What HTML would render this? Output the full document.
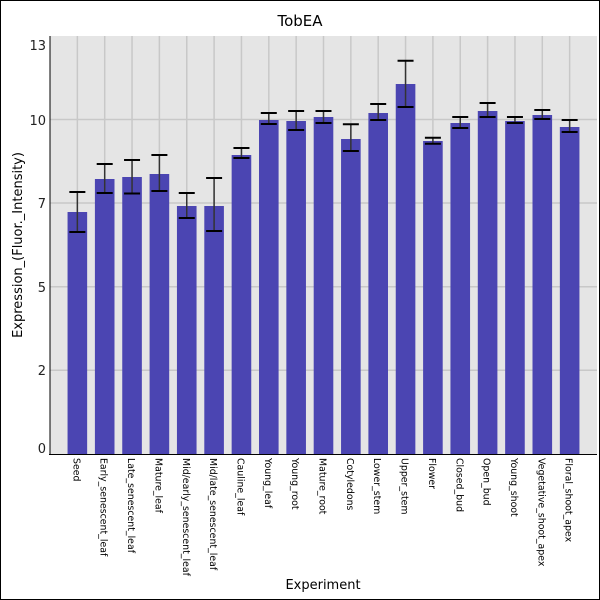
<!DOCTYPE html>
<html><head><meta charset="utf-8"><style>body{margin:0;background:#fff}svg{display:block}</style></head><body>
<svg width="600" height="600" xmlns="http://www.w3.org/2000/svg" font-family="'DejaVu Sans','Liberation Sans',sans-serif">
<rect x="0.5" y="0.5" width="599" height="599" fill="#fff" stroke="#000"/>
<rect x="50" y="36" width="547" height="418" fill="#e5e5e5"/>
<g stroke="#c8c8c8" stroke-width="1.5">
<line x1="50" x2="597" y1="119.5" y2="119.5"/><line x1="50" x2="597" y1="203" y2="203"/><line x1="50" x2="597" y1="286.7" y2="286.7"/><line x1="50" x2="597" y1="370.3" y2="370.3"/>
<line x1="77.35" x2="77.35" y1="36" y2="454"/><line x1="104.7" x2="104.7" y1="36" y2="454"/><line x1="132.05" x2="132.05" y1="36" y2="454"/><line x1="159.4" x2="159.4" y1="36" y2="454"/><line x1="186.75" x2="186.75" y1="36" y2="454"/><line x1="214.1" x2="214.1" y1="36" y2="454"/><line x1="241.45" x2="241.45" y1="36" y2="454"/><line x1="268.8" x2="268.8" y1="36" y2="454"/><line x1="296.15" x2="296.15" y1="36" y2="454"/><line x1="323.5" x2="323.5" y1="36" y2="454"/><line x1="350.85" x2="350.85" y1="36" y2="454"/><line x1="378.2" x2="378.2" y1="36" y2="454"/><line x1="405.55" x2="405.55" y1="36" y2="454"/><line x1="432.9" x2="432.9" y1="36" y2="454"/><line x1="460.25" x2="460.25" y1="36" y2="454"/><line x1="487.6" x2="487.6" y1="36" y2="454"/><line x1="514.95" x2="514.95" y1="36" y2="454"/><line x1="542.3" x2="542.3" y1="36" y2="454"/><line x1="569.65" x2="569.65" y1="36" y2="454"/>
</g>
<g fill="#4b45b2">
<rect x="67.55" y="212" width="19.6" height="242"/>
<rect x="94.9" y="179" width="19.6" height="275"/>
<rect x="122.25" y="177" width="19.6" height="277"/>
<rect x="149.6" y="174" width="19.6" height="280"/>
<rect x="176.95" y="206" width="19.6" height="248"/>
<rect x="204.3" y="206" width="19.6" height="248"/>
<rect x="231.65" y="155" width="19.6" height="299"/>
<rect x="259" y="120" width="19.6" height="334"/>
<rect x="286.35" y="121" width="19.6" height="333"/>
<rect x="313.7" y="117" width="19.6" height="337"/>
<rect x="341.05" y="139" width="19.6" height="315"/>
<rect x="368.4" y="113" width="19.6" height="341"/>
<rect x="395.75" y="84" width="19.6" height="370"/>
<rect x="423.1" y="141" width="19.6" height="313"/>
<rect x="450.45" y="123" width="19.6" height="331"/>
<rect x="477.8" y="111" width="19.6" height="343"/>
<rect x="505.15" y="121" width="19.6" height="333"/>
<rect x="532.5" y="115" width="19.6" height="339"/>
<rect x="559.85" y="127" width="19.6" height="327"/>
</g>
<g stroke="#333" stroke-width="1.5">
<path d="M77.35 192V232M104.7 164V193M132.05 160V193.5M159.4 155V191M186.75 193V218M214.1 178V231M241.45 148V158M268.8 113V124M296.15 111V130M323.5 111V123M350.85 124.3V151M378.2 104V120M405.55 60.7V107M432.9 137.7V143.7M460.25 117V128M487.6 103V117M514.95 117V123M542.3 110V119M569.65 120V132"/>
</g>
<g stroke="#000" stroke-width="2">
<path d="M69.35 192h16M69.35 232h16M96.7 164h16M96.7 193h16M124.05 160h16M124.05 193.5h16M151.4 155h16M151.4 191h16M178.75 193h16M178.75 218h16M206.1 178h16M206.1 231h16M233.45 148h16M233.45 158h16M260.8 113h16M260.8 124h16M288.15 111h16M288.15 130h16M315.5 111h16M315.5 123h16M342.85 124.3h16M342.85 151h16M370.2 104h16M370.2 120h16M397.55 60.7h16M397.55 107h16M424.9 137.7h16M424.9 143.7h16M452.25 117h16M452.25 128h16M479.6 103h16M479.6 117h16M506.95 117h16M506.95 123h16M534.3 110h16M534.3 119h16M561.65 120h16M561.65 132h16"/>
</g>
<line x1="50" y1="36" x2="50" y2="455" stroke="#000"/>
<line x1="49" y1="454.5" x2="597" y2="454.5" stroke="#000"/>
<g font-size="13" text-anchor="end" fill="#222">
<text x="46" y="50">13</text><text x="46" y="125">10</text><text x="46" y="208">7</text><text x="46" y="292">5</text><text x="46" y="375">2</text><text x="46" y="453">0</text>
</g>
<text x="300" y="26" font-size="15" text-anchor="middle">TobEA</text>
<text x="323" y="589" font-size="13" text-anchor="middle">Experiment</text>
<text transform="translate(22,245) rotate(-90)" font-size="13" text-anchor="middle">Expression_(Fluor._Intensity)</text>
<g font-size="9.4">
<text transform="translate(73.35,458) rotate(90)">Seed</text>
<text transform="translate(100.7,458) rotate(90)">Early_senescent_leaf</text>
<text transform="translate(128.05,458) rotate(90)">Late_senescent_leaf</text>
<text transform="translate(155.4,458) rotate(90)">Mature_leaf</text>
<text transform="translate(182.75,458) rotate(90)">Mid/early_senescent_leaf</text>
<text transform="translate(210.1,458) rotate(90)">Mid/late_senescent_leaf</text>
<text transform="translate(237.45,458) rotate(90)">Cauline_leaf</text>
<text transform="translate(264.8,458) rotate(90)">Young_leaf</text>
<text transform="translate(292.15,458) rotate(90)">Young_root</text>
<text transform="translate(319.5,458) rotate(90)">Mature_root</text>
<text transform="translate(346.85,458) rotate(90)">Cotyledons</text>
<text transform="translate(374.2,458) rotate(90)">Lower_stem</text>
<text transform="translate(401.55,458) rotate(90)">Upper_stem</text>
<text transform="translate(428.9,458) rotate(90)">Flower</text>
<text transform="translate(456.25,458) rotate(90)">Closed_bud</text>
<text transform="translate(483.6,458) rotate(90)">Open_bud</text>
<text transform="translate(510.95,458) rotate(90)">Young_shoot</text>
<text transform="translate(538.3,458) rotate(90)">Vegetative_shoot_apex</text>
<text transform="translate(565.65,458) rotate(90)">Floral_shoot_apex</text>
</g>
</svg>
</body></html>
